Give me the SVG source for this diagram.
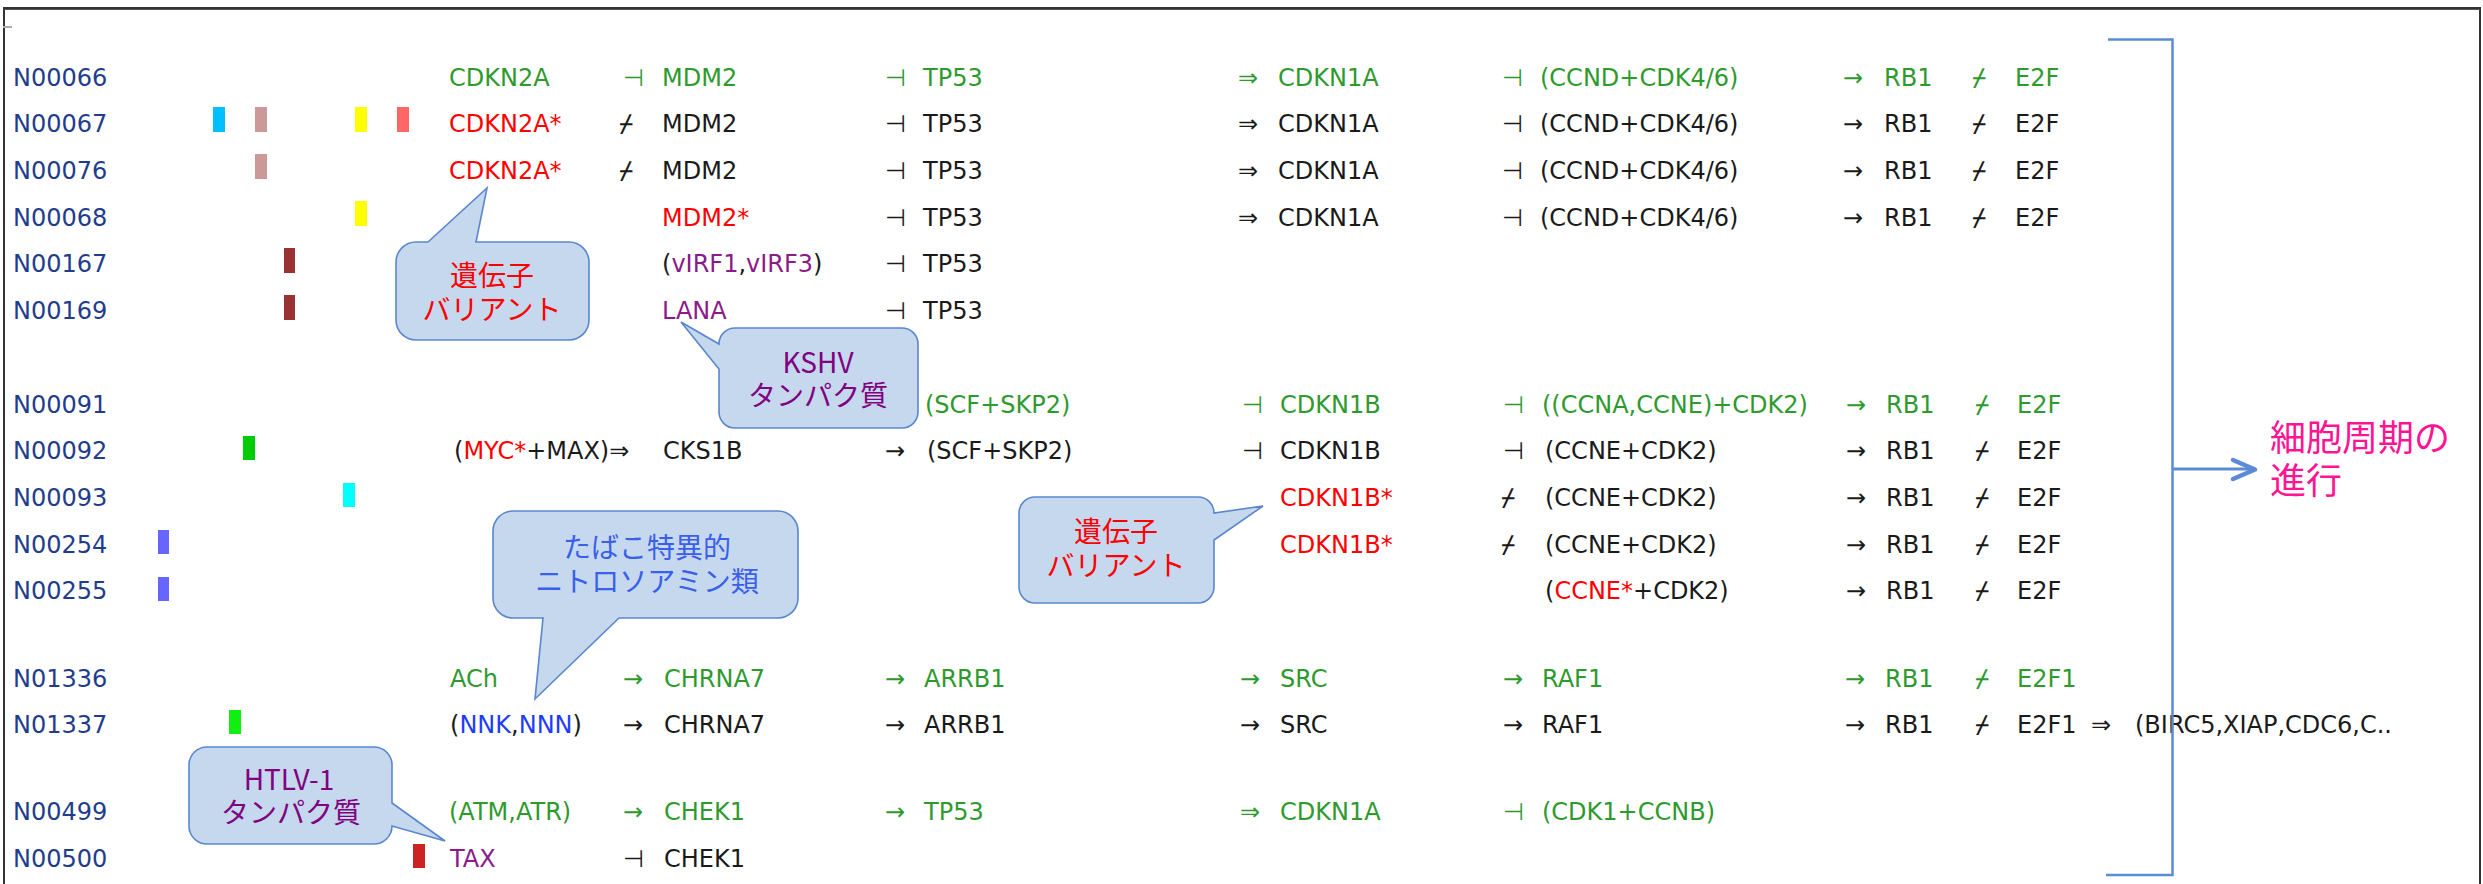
<svg xmlns="http://www.w3.org/2000/svg" width="2483" height="884" viewBox="0 0 2483 884">
<defs>
<style>
text{font-family:"DejaVu Sans","Liberation Sans",sans-serif;font-size:24px}
.id{fill:#1F3D8C}
.g{fill:#2E9A2E}
.k{fill:#1A1A1A}
.r{fill:#FF0000}
.p{fill:#8B1A8B}
.b{fill:#1E3CFF}
.s{font-family:"DejaVu Sans Mono","DejaVu Sans",sans-serif}
.co{fill:#C5D8EE;stroke:#5A86CC;stroke-width:1.6}
.ct{font-family:"Noto Sans CJK JP","Noto Sans CJK SC",sans-serif;font-size:28px;text-anchor:middle}
.ln{fill:none;stroke:#5B8BD6;stroke-width:2.5}
</style>
</defs>
<rect width="2483" height="884" fill="#fff"/>
<g id="frame">
<rect x="4" y="8" width="2476" height="900" fill="none" stroke="#333" stroke-width="2"/>
<line x1="4" y1="9.5" x2="2480" y2="9.5" stroke="#555" stroke-width="1"/>
<line x1="3" y1="27" x2="12" y2="27" stroke="#aaa" stroke-width="2"/>
</g>

<g id="N00066">
<text x="13" y="85.5" class="id">N00066</text>
<text y="85.5" class="g"><tspan x="449">CDKN2A</tspan><tspan x="623">⊣</tspan><tspan x="662">MDM2</tspan><tspan x="885">⊣</tspan><tspan x="923">TP53</tspan><tspan x="1238">⇒</tspan><tspan x="1278">CDKN1A</tspan><tspan x="1502">⊣</tspan><tspan x="1540">(CCND+CDK4/6)</tspan><tspan x="1843">→</tspan><tspan x="1884">RB1</tspan><tspan x="1972" class="s">⌿</tspan><tspan x="2015">E2F</tspan></text>
</g>

<g id="N00067">
<text x="13" y="132.2" class="id">N00067</text>
<rect x="213" y="107" width="12" height="25" fill="#00BFFF"/>
<rect x="255" y="107" width="12" height="25" fill="#CC9999"/>
<rect x="355" y="107" width="12" height="25" fill="#FFFF00"/>
<rect x="397" y="107" width="12" height="25" fill="#FF6666"/>
<text x="449" y="132.2" class="r">CDKN2A*</text>
<text y="132.2" class="k"><tspan x="619" class="s">⌿</tspan><tspan x="662">MDM2</tspan><tspan x="885">⊣</tspan><tspan x="923">TP53</tspan><tspan x="1238">⇒</tspan><tspan x="1278">CDKN1A</tspan><tspan x="1502">⊣</tspan><tspan x="1540">(CCND+CDK4/6)</tspan><tspan x="1843">→</tspan><tspan x="1884">RB1</tspan><tspan x="1972" class="s">⌿</tspan><tspan x="2015">E2F</tspan></text>
</g>

<g id="N00076">
<text x="13" y="178.9" class="id">N00076</text>
<rect x="255" y="154" width="12" height="25" fill="#CC9999"/>
<text x="449" y="178.9" class="r">CDKN2A*</text>
<text y="178.9" class="k"><tspan x="619" class="s">⌿</tspan><tspan x="662">MDM2</tspan><tspan x="885">⊣</tspan><tspan x="923">TP53</tspan><tspan x="1238">⇒</tspan><tspan x="1278">CDKN1A</tspan><tspan x="1502">⊣</tspan><tspan x="1540">(CCND+CDK4/6)</tspan><tspan x="1843">→</tspan><tspan x="1884">RB1</tspan><tspan x="1972" class="s">⌿</tspan><tspan x="2015">E2F</tspan></text>
</g>

<g id="N00068">
<text x="13" y="225.6" class="id">N00068</text>
<rect x="355" y="201" width="12" height="25" fill="#FFFF00"/>
<text x="662" y="225.6" class="r">MDM2*</text>
<text y="225.6" class="k"><tspan x="885">⊣</tspan><tspan x="923">TP53</tspan><tspan x="1238">⇒</tspan><tspan x="1278">CDKN1A</tspan><tspan x="1502">⊣</tspan><tspan x="1540">(CCND+CDK4/6)</tspan><tspan x="1843">→</tspan><tspan x="1884">RB1</tspan><tspan x="1972" class="s">⌿</tspan><tspan x="2015">E2F</tspan></text>
</g>

<g id="N00167">
<text x="13" y="272.3" class="id">N00167</text>
<rect x="284" y="248" width="11" height="25" fill="#993333"/>
<text x="662" y="272.3" class="k">(<tspan class="p">vIRF1</tspan>,<tspan class="p">vIRF3</tspan>)</text>
<text y="272.3" class="k"><tspan x="885">⊣</tspan><tspan x="923">TP53</tspan></text>
</g>

<g id="N00169">
<text x="13" y="319" class="id">N00169</text>
<rect x="284" y="295" width="11" height="25" fill="#993333"/>
<text x="662" y="319" class="p">LANA</text>
<text y="319" class="k"><tspan x="885">⊣</tspan><tspan x="923">TP53</tspan></text>
</g>

<g id="N00091">
<text x="13" y="412.5" class="id">N00091</text>
<text y="412.5" class="g"><tspan x="925">(SCF+SKP2)</tspan><tspan x="1242">⊣</tspan><tspan x="1280">CDKN1B</tspan><tspan x="1503">⊣</tspan><tspan x="1542">((CCNA,CCNE)+CDK2)</tspan><tspan x="1846">→</tspan><tspan x="1886">RB1</tspan><tspan x="1975" class="s">⌿</tspan><tspan x="2017">E2F</tspan></text>
</g>

<g id="N00092">
<text x="13" y="459.2" class="id">N00092</text>
<rect x="243" y="436" width="12" height="24" fill="#00CC00"/>
<text x="454" y="459.2" class="k">(<tspan class="r">MYC*</tspan>+MAX)⇒</text>
<text y="459.2" class="k"><tspan x="663">CKS1B</tspan><tspan x="885">→</tspan><tspan x="927">(SCF+SKP2)</tspan><tspan x="1242">⊣</tspan><tspan x="1280">CDKN1B</tspan><tspan x="1503">⊣</tspan><tspan x="1545">(CCNE+CDK2)</tspan><tspan x="1846">→</tspan><tspan x="1886">RB1</tspan><tspan x="1975" class="s">⌿</tspan><tspan x="2017">E2F</tspan></text>
</g>

<g id="N00093">
<text x="13" y="505.9" class="id">N00093</text>
<rect x="343" y="483" width="12" height="24" fill="#00FFFF"/>
<text x="1280" y="505.9" class="r">CDKN1B*</text>
<text y="505.9" class="k"><tspan x="1501" class="s">⌿</tspan><tspan x="1545">(CCNE+CDK2)</tspan><tspan x="1846">→</tspan><tspan x="1886">RB1</tspan><tspan x="1975" class="s">⌿</tspan><tspan x="2017">E2F</tspan></text>
</g>

<g id="N00254">
<text x="13" y="552.6" class="id">N00254</text>
<rect x="158" y="530" width="11" height="24" fill="#6666FF"/>
<text x="1280" y="552.6" class="r">CDKN1B*</text>
<text y="552.6" class="k"><tspan x="1501" class="s">⌿</tspan><tspan x="1545">(CCNE+CDK2)</tspan><tspan x="1846">→</tspan><tspan x="1886">RB1</tspan><tspan x="1975" class="s">⌿</tspan><tspan x="2017">E2F</tspan></text>
</g>

<g id="N00255">
<text x="13" y="599.3" class="id">N00255</text>
<rect x="158" y="577" width="11" height="24" fill="#6666FF"/>
<text x="1545" y="599.3" class="k">(<tspan class="r">CCNE*</tspan>+CDK2)</text>
<text y="599.3" class="k"><tspan x="1846">→</tspan><tspan x="1886">RB1</tspan><tspan x="1975" class="s">⌿</tspan><tspan x="2017">E2F</tspan></text>
</g>

<g id="N01336">
<text x="13" y="686.5" class="id">N01336</text>
<text y="686.5" class="g"><tspan x="450">ACh</tspan><tspan x="623">→</tspan><tspan x="664">CHRNA7</tspan><tspan x="885">→</tspan><tspan x="924">ARRB1</tspan><tspan x="1240">→</tspan><tspan x="1280">SRC</tspan><tspan x="1503">→</tspan><tspan x="1542">RAF1</tspan><tspan x="1845">→</tspan><tspan x="1885">RB1</tspan><tspan x="1975" class="s">⌿</tspan><tspan x="2017">E2F1</tspan></text>
</g>

<g id="N01337">
<text x="13" y="733.2" class="id">N01337</text>
<rect x="229" y="710" width="12" height="24" fill="#11EE11"/>
<text x="450" y="733.2" class="k">(<tspan class="b">NNK</tspan>,<tspan class="b">NNN</tspan>)</text>
<text y="733.2" class="k"><tspan x="623">→</tspan><tspan x="664">CHRNA7</tspan><tspan x="885">→</tspan><tspan x="924">ARRB1</tspan><tspan x="1240">→</tspan><tspan x="1280">SRC</tspan><tspan x="1503">→</tspan><tspan x="1542">RAF1</tspan><tspan x="1845">→</tspan><tspan x="1885">RB1</tspan><tspan x="1975" class="s">⌿</tspan><tspan x="2017">E2F1</tspan><tspan x="2091">⇒</tspan><tspan x="2135">(BIRC5,XIAP,CDC6,C..</tspan></text>
</g>

<g id="N00499">
<text x="13" y="820" class="id">N00499</text>
<text y="820" class="g"><tspan x="449">(ATM,ATR)</tspan><tspan x="623">→</tspan><tspan x="664">CHEK1</tspan><tspan x="885">→</tspan><tspan x="924">TP53</tspan><tspan x="1240">⇒</tspan><tspan x="1280">CDKN1A</tspan><tspan x="1503">⊣</tspan><tspan x="1542">(CDK1+CCNB)</tspan></text>
</g>

<g id="N00500">
<text x="13" y="866.7" class="id">N00500</text>
<rect x="413" y="844" width="12" height="24" fill="#CC2222"/>
<text x="450" y="866.7" class="p">TAX</text>
<text y="866.7" class="k"><tspan x="623">⊣</tspan><tspan x="664">CHEK1</tspan></text>
</g>

<g id="callout-variant1">
<path class="co" d="M416,242 L428,242 L487,188 L476,242 L569,242 A20,20 0 0 1 589,262 L589,320 A20,20 0 0 1 569,340 L416,340 A20,20 0 0 1 396,320 L396,262 A20,20 0 0 1 416,242 Z"/>
<text class="ct" x="492" y="286" fill="#FF0000">遺伝子</text>
<text class="ct" x="492" y="320" fill="#FF0000">バリアント</text>
</g>

<g id="callout-kshv">
<path class="co" d="M735,328 L902,328 A16,16 0 0 1 918,344 L918,412 A16,16 0 0 1 902,428 L735,428 A16,16 0 0 1 719,412 L719,369 L681,322 L719,344 A16,16 0 0 1 735,328 Z"/>
<text class="ct" x="818" y="373" fill="#800080">KSHV</text>
<text class="ct" x="818" y="406" fill="#800080">タンパク質</text>
</g>

<g id="callout-tobacco">
<path class="co" d="M513,511 L778,511 A20,20 0 0 1 798,531 L798,598 A20,20 0 0 1 778,618 L619,618 L535,699 L543,618 L513,618 A20,20 0 0 1 493,598 L493,531 A20,20 0 0 1 513,511 Z"/>
<text class="ct" x="647" y="558" fill="#3A5FE8">たばこ特異的</text>
<text class="ct" x="647" y="592" fill="#3A5FE8">ニトロソアミン類</text>
</g>

<g id="callout-variant2">
<path class="co" d="M1035,497 L1198,497 A16,16 0 0 1 1214,513 L1263,506 L1214,540 L1214,587 A16,16 0 0 1 1198,603 L1035,603 A16,16 0 0 1 1019,587 L1019,513 A16,16 0 0 1 1035,497 Z"/>
<text class="ct" x="1116" y="542" fill="#FF0000">遺伝子</text>
<text class="ct" x="1116" y="576" fill="#FF0000">バリアント</text>
</g>

<g id="callout-htlv">
<path class="co" d="M207,747 L374,747 A18,18 0 0 1 392,765 L392,803 L445,841 L392,826 A18,18 0 0 1 374,844 L207,844 A18,18 0 0 1 189,826 L189,765 A18,18 0 0 1 207,747 Z"/>
<text class="ct" x="289" y="790" fill="#800080">HTLV-1</text>
<text class="ct" x="291" y="823" fill="#800080">タンパク質</text>
</g>

<g id="result">
<text x="2270" y="451" fill="#FF1493" style="font-family:'Noto Sans CJK JP','Noto Sans CJK SC',sans-serif;font-size:36px">細胞周期の</text>
<text x="2270" y="494" fill="#FF1493" style="font-family:'Noto Sans CJK JP','Noto Sans CJK SC',sans-serif;font-size:36px">進行</text>
</g>

<g id="connectors">
<path class="ln" d="M2108,39.5 H2172.5 V875 H2106"/>
<line x1="2173" y1="469" x2="2252" y2="469" stroke="#5B8BD6" stroke-width="3"/>
<path d="M2233,460 L2255,469.5 L2233,479" fill="none" stroke="#5B8BD6" stroke-width="4.5" stroke-linecap="round" stroke-linejoin="round"/>
</g>
</svg>
